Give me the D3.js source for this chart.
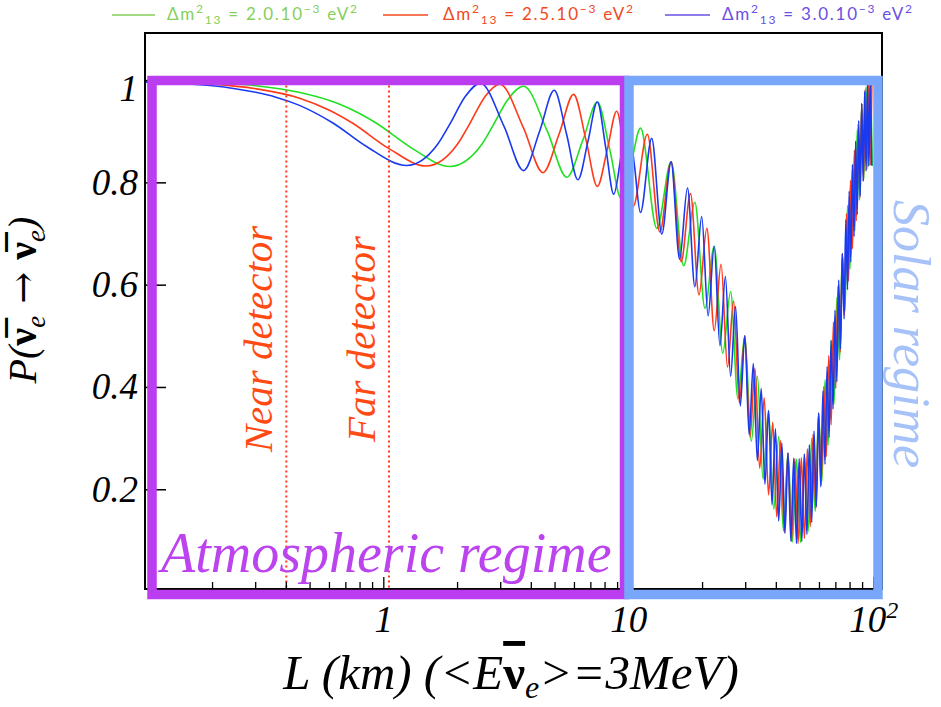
<!DOCTYPE html>
<html><head><meta charset="utf-8">
<script src="https://cdn.jsdelivr.net/npm/d3@7/dist/d3.min.js"></script>
<style>body{margin:0;background:#fff;} svg{display:block;}</style>
</head><body><svg id="chart" width="941" height="707"></svg>
<script>
// ---------- data ----------
const seriesDm2 = ["2.0", "2.5", "3.0"];
const curveColors = ["#22E022", "#FF3A1A", "#1A3AF0"];
const legendColors = ["#86CF59", "#F04A1E", "#6A50E2"];

const greenL = [0.106,0.2,0.3,0.45,0.65,0.8,0.93,1.3,1.86,2.5,2.79,3.2,3.72,4.65,5.58,6.51,7.44,8.37,9.30,10.23,11.16,
  13.02,14.88,16.74,18.60,20.46,22.32,24.18,26.03,27.89,29.75,31.61,33.47,35.33,37.19,39.05,40.91,42.77,44.63,46.49,48.35,
  50.21,52.07,53.93,55.79,57.65,59.51,61.37,63.23,65.09,66.95,68.81,70.67,72.52,74.38,76.24,78.10,79.96,81.82,83.68,85.54,
  87.40,89.26,91.12,92.98,94.84,96.70,98.56];
const greenP = [0.999,0.995,0.990,0.977,0.955,0.935,0.917,0.868,0.832,0.874,0.912,0.962,0.989,0.901,0.811,0.885,0.958,0.864,0.770,0.839,0.907,
  0.711,0.841,0.638,0.762,0.555,0.676,0.467,0.587,0.378,0.501,0.295,0.422,0.221,0.355,0.162,0.304,0.120,0.272,0.098,0.260,
  0.097,0.270,0.118,0.301,0.158,0.350,0.216,0.415,0.287,0.492,0.368,0.576,0.454,0.662,0.549,0.756,0.632,0.836,0.706,0.903,
  0.766,0.955,0.809,0.988,0.832,1.000,0.833];

const redL = [0.106,0.2,0.3,0.45,0.6,0.744,1.05,1.488,2.0,2.232,2.6,2.975,3.719,4.463,5.207,5.951,6.695,7.439,8.182,8.926,9.670,10.414,
  11.90,13.39,14.88,16.36,17.85,19.34,20.83,22.32,23.80,25.29,26.78,28.27,29.75,31.24,32.73,34.22,35.70,37.19,38.68,40.17,
  41.66,43.14,44.63,46.12,47.61,49.09,50.58,52.07,53.56,55.04,56.53,58.02,59.51,61.00,62.48,63.97,65.46,66.95,68.43,69.92,
  71.41,72.90,74.39,75.87,77.36,78.85,80.34,81.82,83.31,84.80,86.29,87.77,89.26,90.75,92.24,93.73,95.21,96.70,98.19];
const redP = [0.998,0.993,0.984,0.966,0.942,0.917,0.867,0.833,0.876,0.914,0.970,0.993,0.907,0.820,0.897,0.973,0.883,0.793,0.867,0.940,0.847,0.754,
  0.895,0.704,0.841,0.646,0.779,0.581,0.711,0.511,0.641,0.440,0.569,0.370,0.501,0.303,0.437,0.242,0.380,0.190,0.332,0.147,
  0.296,0.117,0.272,0.099,0.261,0.095,0.263,0.105,0.280,0.128,0.309,0.164,0.350,0.210,0.402,0.265,0.462,0.327,0.528,0.398,
  0.598,0.469,0.662,0.540,0.740,0.608,0.805,0.671,0.864,0.726,0.915,0.771,0.955,0.805,0.983,0.827,0.998,0.835,0.999];

const blueL = [0.106,0.2,0.3,0.36,0.45,0.62,0.85,1.24,1.65,1.86,2.15,2.479,3.099,3.719,4.339,4.959,5.579,6.199,6.818,7.438,8.058,8.678,9.298,9.918,10.537,
  11.16,12.40,13.64,14.88,16.12,17.36,18.60,19.84,21.07,22.31,23.55,24.79,26.03,27.27,28.51,29.75,30.99,32.23,33.47,34.71,
  35.95,37.19,38.43,39.67,40.91,42.15,43.39,44.63,45.87,47.11,48.35,49.59,50.83,52.07,53.31,54.55,55.79,57.03,58.27,59.51,
  60.75,61.99,63.22,64.46,65.70,66.94,68.18,69.42,70.66,71.90,73.14,74.38,75.62,76.86,78.10,79.34,80.58,81.82,83.06,84.30,
  85.54,86.78,88.02,89.26,90.50,91.74,92.98,94.22,95.46,96.70,97.94];
const blueP = [0.997,0.990,0.977,0.968,0.952,0.917,0.871,0.834,0.874,0.915,0.969,0.995,0.910,0.824,0.903,0.981,0.894,0.806,0.882,0.958,0.868,0.778,0.852,0.926,0.835,
  0.742,0.887,0.700,0.841,0.651,0.790,0.597,0.734,0.540,0.676,0.482,0.617,0.422,0.558,0.364,0.501,0.308,0.447,0.257,0.398,
  0.211,0.355,0.171,0.319,0.139,0.291,0.115,0.272,0.100,0.262,0.095,0.261,0.099,0.270,0.113,0.288,0.136,0.315,0.167,0.350,
  0.206,0.393,0.250,0.441,0.302,0.492,0.358,0.551,0.411,0.610,0.475,0.662,0.534,0.728,0.591,0.784,0.645,0.836,0.695,0.882,
  0.738,0.922,0.775,0.955,0.803,0.979,0.823,0.994,0.833,1.000,0.834];

const yTickValues = [0.2, 0.4, 0.6, 0.8, 1];
const yTickLabels = ["0.2", "0.4", "0.6", "0.8", "1"];
const xLabelValues = [1, 10, 100];
const xLabelTexts = ["1", "10", "10"];
const xLabelSups = ["", "", "2"];
const detectorL = [0.40, 1.05];
const detectorNames = ["Near detector", "Far detector"];

// ---------- chart ----------
const svg = d3.select("#chart");
const x = d3.scaleLog().domain([0.106, 108]).range([145, 882]);
const y = d3.scaleLinear().domain([0.006, 1.093]).range([589, 33]);
const [xL, xR] = x.range();
const [yB, yT] = y.range();
const serif = "'Liberation Serif','Times New Roman',serif";

svg.append("clipPath").attr("id", "plotclip").append("rect")
  .attr("x", xL).attr("y", yT).attr("width", xR - xL).attr("height", yB - yT);

const line = d3.line().x(d => x(d[0])).y(d => y(d[1])).curve(d3.curveMonotoneX);
const curves = [[greenL, greenP], [redL, redP], [blueL, blueP]];
const gC = svg.append("g").attr("clip-path", "url(#plotclip)");
curves.forEach((c, i) => {
  gC.append("path").attr("d", line(d3.zip(c[0], c[1])))
    .attr("fill", "none").attr("stroke", curveColors[i]).attr("stroke-width", 1.6);
});

// detector lines
detectorL.forEach((L, i) => {
  svg.append("line").attr("x1", x(L)).attr("x2", x(L)).attr("y1", y(1)).attr("y2", yB)
    .attr("stroke", "#FF3A1A").attr("stroke-width", 2).attr("stroke-dasharray", "2,3");
});

// axes frame and ticks
const gA = svg.append("g");
gA.append("rect").attr("x", xL).attr("y", yT).attr("width", xR - xL).attr("height", yB - yT)
  .attr("fill", "none").attr("stroke", "#000").attr("stroke-width", 2);
gA.selectAll(".yt").data(yTickValues).enter().append("line")
  .attr("x1", xL).attr("x2", xL + 21).attr("y1", d => y(d)).attr("y2", d => y(d))
  .attr("stroke", "#000").attr("stroke-width", 1.5);
const xt = x.ticks();
gA.selectAll(".xt").data(xt).enter().append("line")
  .attr("x1", d => x(d)).attr("x2", d => x(d)).attr("y1", yB)
  .attr("y2", d => yB - (Math.abs(Math.log10(d) - Math.round(Math.log10(d))) < 1e-6 ? 12 : 7))
  .attr("stroke", "#000").attr("stroke-width", 1.3);

// regime boxes
svg.append("rect").attr("x", 152).attr("y", 80.5).attr("width", 472.5).attr("height", 514)
  .attr("fill", "none").attr("stroke", "#BB3DF0").attr("stroke-width", 9.5);
svg.append("rect").attr("x", 629).attr("y", 80.5).attr("width", 249).attr("height", 514)
  .attr("fill", "none").attr("stroke", "#78A6FA").attr("stroke-width", 9.5);

// tick labels
svg.selectAll(".ytl").data(yTickValues).enter().append("text")
  .attr("x", 138).attr("y", (d, i) => y(d) + (d === 1 ? 20 : 12))
  .attr("text-anchor", "end").attr("font-family", serif).attr("font-style", "italic")
  .attr("font-size", 37).text((d, i) => yTickLabels[i]);
xLabelValues.forEach((v, i) => {
  const t = svg.append("text").attr("x", x(v)).attr("y", 632).attr("text-anchor", "middle")
    .attr("font-family", serif).attr("font-style", "italic").attr("font-size", 37);
  t.append("tspan").text(xLabelTexts[i]);
  if (xLabelSups[i]) t.append("tspan").attr("dy", -14).attr("font-size", 24).text(xLabelSups[i]);
});

// axis titles
const xt2 = svg.append("text").attr("x", 511).attr("y", 689).attr("text-anchor", "middle")
  .attr("font-family", serif).attr("font-style", "italic").attr("font-size", 49);
xt2.append("tspan").text("L (km) (<E");
xt2.append("tspan").attr("font-style", "normal").attr("font-weight", "bold")
  .style("text-decoration", "overline").text("ν");
xt2.append("tspan").attr("dy", 9).attr("font-size", 32).text("e");
xt2.append("tspan").attr("dy", -9).text(">=3MeV)");

const yt2 = svg.append("text").attr("transform", "translate(36,300) rotate(-90)")
  .attr("text-anchor", "middle").attr("font-family", serif).attr("font-style", "italic").attr("font-size", 40);
yt2.append("tspan").text("P(");
yt2.append("tspan").attr("font-style", "normal").attr("font-weight", "bold").text("ν\u0305");
yt2.append("tspan").attr("dy", 9).attr("font-size", 27).text("e");
yt2.append("tspan").attr("dy", -9).attr("font-style", "normal").attr("font-family", "'DejaVu Serif',serif")
  .attr("font-size", 38).text(" \u2192 ");
yt2.append("tspan").attr("font-style", "normal").attr("font-weight", "bold").text("ν\u0305");
yt2.append("tspan").attr("dy", 9).attr("font-size", 27).text("e");
yt2.append("tspan").attr("dy", -9).text(")");

// detector labels
detectorL.forEach((L, i) => {
  svg.append("text").attr("transform", `translate(${x(L) - 14},339) rotate(-90)`)
    .attr("text-anchor", "middle").attr("font-family", serif).attr("font-style", "italic")
    .attr("font-size", 41).attr("fill", "#FF4A14").text(detectorNames[i]);
});

// regime labels
svg.append("text").attr("x", 161).attr("y", 572).attr("font-family", serif).attr("font-style", "italic")
  .attr("font-size", 56).attr("fill", "#BB44EE").text("Atmospheric regime");
svg.append("text").attr("transform", "translate(894,200) rotate(90)").attr("font-family", serif)
  .attr("font-style", "italic").attr("font-size", 52).attr("fill", "#A6C2F8").text("Solar regime");

// legend
const legX = [[112, 155, 167], [383, 428, 443], [665, 710, 722]];
seriesDm2.forEach((v, i) => {
  svg.append("line").attr("x1", legX[i][0]).attr("x2", legX[i][1]).attr("y1", 15).attr("y2", 15)
    .attr("stroke", legendColors[i]).attr("stroke-width", 1.5);
  const t = svg.append("text").attr("x", legX[i][2]).attr("y", 20)
    .attr("font-family", "Lato, 'Open Sans', sans-serif").attr("font-size", 17).attr("fill", legendColors[i])
    .attr("textLength", 190).attr("lengthAdjust", "spacing");
  t.append("tspan").text("Δm");
  t.append("tspan").attr("dy", -7).attr("font-size", 12).text("2");
  t.append("tspan").attr("dy", 11).attr("font-size", 12).text("13");
  t.append("tspan").attr("dy", -4).text(" = " + v + ".10");
  t.append("tspan").attr("dy", -7).attr("font-size", 12).text("−3");
  t.append("tspan").attr("dy", 7).text(" eV");
  t.append("tspan").attr("dy", -7).attr("font-size", 12).text("2");
});
</script>
</body></html>
